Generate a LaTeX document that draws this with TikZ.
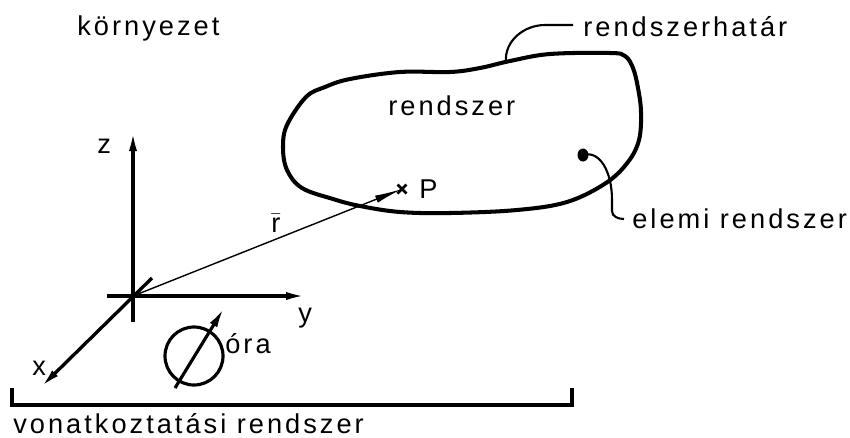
\documentclass[tikz,border=0pt]{standalone}
\usepackage{fontspec}
\setmainfont{Liberation Sans}[LetterSpace=11]
\usetikzlibrary{arrows.meta}
\begin{document}
\begin{tikzpicture}[x=0.02cm,y=-0.02cm,
  lbl/.style={inner sep=0pt,anchor=base west,font=\fontsize{15.5}{18}\selectfont},
  axis/.style={line width=1.9pt,-{Latex[length=4.2mm,width=1.6mm]}},
  thinvec/.style={line width=0.8pt,-{Latex[length=5.5mm,width=1.5mm]}},
  leader/.style={line width=1.2pt},
  border/.style={line width=2.3pt,line join=round}]
\useasboundingbox (0,0) rectangle (850,437);
% coordinates
\coordinate (O) at (133,296);
\coordinate (zb) at (133,322);
\coordinate (zt) at (133,130);
\coordinate (yb) at (107,296);
\coordinate (yt) at (307,296);
\coordinate (xb) at (152,278);
\coordinate (xt) at (40,388);
\coordinate (P) at (402,189);
% axes
\draw[axis] (zb) -- (zt);
\draw[axis] (yb) -- (yt);
\draw[axis] (xb) -- (xt);
\draw[thinvec] (O) -- (P);
\draw[line width=1.6pt] ([shift={(-4.5,-4.5)}]P) -- ([shift={(4.5,4.5)}]P)
                      ([shift={(-4.5,4.5)}]P) -- ([shift={(4.5,-4.5)}]P);
% labels of axes
\node[lbl] (zl) at (97,153) {z};
\node[lbl] (yl) at (298,322) {y};
\node[lbl] (xl) at (32,375) {x};
\node[lbl] (rl) at (271,232) {$\bar{\mbox{r}}$};
\node[lbl] (Pl) at (419,198) {P};
% clock
\node[circle,draw,line width=1.8pt,minimum size=58*0.02cm,inner sep=0pt] (clk) at (194,356) {};
\coordinate (cb) at (175,388);
\coordinate (ct) at (224,308);
\draw[line width=1.8pt,-{Latex[length=4mm,width=1.7mm]}] (cb) -- (ct);
\node[lbl] (ora) at (225,353) {óra};
% bracket
\coordinate (b1) at (12,388);
\coordinate (b2) at (12,405);
\coordinate (b3) at (572,405);
\coordinate (b4) at (572,388);
\draw[line width=1.8pt] (b1) -- (b2) -- (b3) -- (b4);
\node[lbl] (vr) at (13,433) {vonatkoztatási rendszer};
% environment
\node[lbl] (env) at (77,35) {környezet};
% system boundary
\draw[border] plot[smooth cycle,tension=0.6] coordinates {
 (306,97) (325,87) (350,79) (400,72) (450,72) (480,68) (510,61) (550,54)
 (610,53) (625,56) (633,68) (638,88) (641,112) (639,140) (628,162)
 (606,183) (567,202) (517,210) (450,213) (400,212) (360,206)
 (333,199) (302,188) (287,170) (283,147) (287,125)};
\node[lbl] (sys) at (388,115) {rendszer};
% boundary label
\coordinate (hb) at (506,62);
\coordinate (hk) at (545,25);
\coordinate (he) at (573,25);
\draw[leader] (hb) to[out=95,in=180] (hk) -- (he);
\node[lbl] (hat) at (583,36) {rendszerhatár};
% elementary system
\coordinate (el) at (583,155);
\fill (el) ellipse[x radius=5.5, y radius=6.5];
\coordinate (e1) at (612,200);
\coordinate (e2) at (624,219);
\draw[leader] (el) .. controls (600,150) and (612,172) .. (e1) -- (612,211) to[out=-90,in=180] (e2);
\node[lbl] (elem) at (632,228) {elemi rendszer};
\end{tikzpicture}
\end{document}
